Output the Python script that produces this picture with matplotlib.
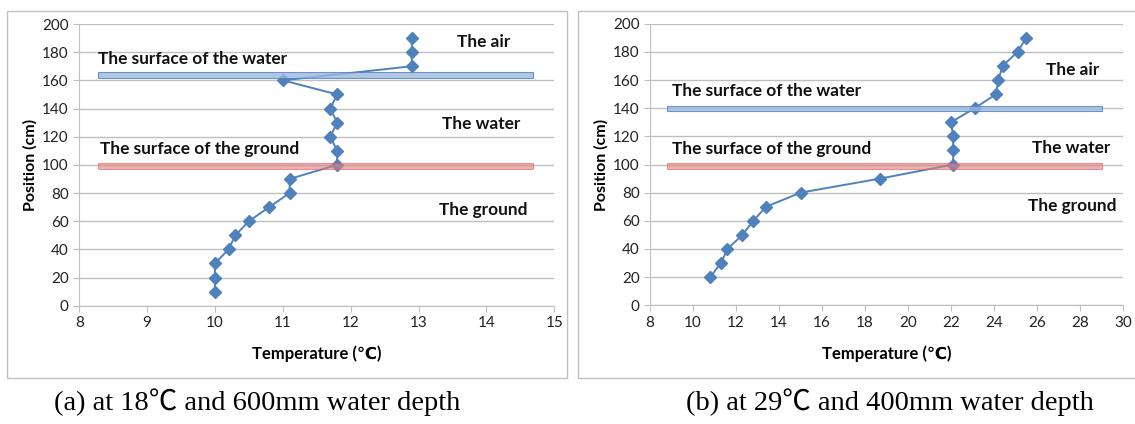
import matplotlib
matplotlib.use("Agg")
import matplotlib.pyplot as plt
from matplotlib.patches import Rectangle

# data: position (cm) vs temperature (C)
pos_a = [190, 180, 170, 160, 150, 140, 130, 120, 110, 100, 90, 80, 70, 60, 50, 40, 30, 20, 10]
temp_a = [12.9, 12.9, 12.9, 11.0, 11.8, 11.7, 11.8, 11.7, 11.8, 11.8, 11.1, 11.1, 10.8, 10.5, 10.3, 10.2, 10.0, 10.0, 10.0]

pos_b = [190, 180, 170, 160, 150, 140, 130, 120, 110, 100, 90, 80, 70, 60, 50, 40, 30, 20]
temp_b = [25.5, 25.1, 24.4, 24.2, 24.1, 23.1, 22.0, 22.1, 22.1, 22.1, 18.7, 15.0, 13.4, 12.8, 12.3, 11.6, 11.3, 10.8]

water_level_a = 164
ground_level_a = 99.4
water_level_b = 139.7
ground_level_b = 98.8

captions = ["(a) at 18\u2103 and 600mm water depth", "(b) at 29\u2103 and 400mm water depth"]

blue = "#4F81BD"
grid_c = "#BFBFBF"
sans = ["Lato", "DejaVu Sans"]

fig = plt.figure(figsize=(11.35, 4.24), dpi=100)
W, H = 1135, 424


def px_axes(x0, x1, ytop, ybot):
    return fig.add_axes([x0 / W, 1 - ybot / H, (x1 - x0) / W, (ybot - ytop) / H])


def panel(ax, temps, pos, xlim, xticks, water, ground, band_x, labels):
    ax.set_xlim(*xlim)
    ax.set_ylim(0, 200)
    ax.set_xticks(xticks)
    ax.set_yticks(range(0, 201, 20))
    ax.yaxis.grid(True, color=grid_c, lw=1.0)
    ax.set_axisbelow(True)
    for s in ["top", "right"]:
        ax.spines[s].set_visible(False)
    for s in ["left", "bottom"]:
        ax.spines[s].set_color(grid_c)
    ax.tick_params(axis="both", colors=grid_c, length=4, labelcolor="#222222", labelsize=11)
    for t in ax.get_xticklabels() + ax.get_yticklabels():
        t.set_family(sans)

    ax.plot(temps, pos, color=blue, lw=1.4, marker="D", ms=6, zorder=3)

    bx0, bx1 = band_x
    ax.add_patch(Rectangle((bx0, water - 2), bx1 - bx0, 4, facecolor="#9DB9DD",
                           edgecolor=blue, lw=0.8, alpha=0.8, zorder=4))
    ax.add_patch(Rectangle((bx0, ground - 2), bx1 - bx0, 4, facecolor="#E08080",
                           edgecolor="#E06060", lw=0.8, alpha=0.6, zorder=4))

    for txt, x, y, ha in labels:
        ax.text(x, y, txt, ha=ha, va="center", fontsize=12.4, fontweight="bold",
                family=sans, color="#111111", zorder=5)

    ax.set_xlabel("Temperature (\u2103)", fontsize=12, fontweight="bold",
                  family=sans, labelpad=11)
    ax.set_ylabel("Position (cm)", fontsize=11.5, fontweight="bold",
                  family=sans, labelpad=3)


# outer frames of the two panels
fig.patches.append(Rectangle((7 / W, 1 - 378 / H), 560 / W, 367 / H, transform=fig.transFigure,
                             fill=False, edgecolor=grid_c, lw=1.0))
fig.patches.append(Rectangle((578 / W, 1 - 378 / H), 560 / W, 367 / H, transform=fig.transFigure,
                             fill=False, edgecolor=grid_c, lw=1.0))

ax1 = px_axes(79.2, 554.3, 24, 305.7)
panel(ax1, temp_a, pos_a, (8, 15), range(8, 16), water_level_a, ground_level_a, (8.27, 14.68),
      [("The surface of the water", 8.28, 175, "left"),
       ("The surface of the ground", 8.3, 111, "left"),
       ("The air", 13.96, 187, "center"),
       ("The water", 13.93, 129, "center"),
       ("The ground", 13.95, 68, "center")])

ax2 = px_axes(650, 1123, 23.7, 305.3)
panel(ax2, temp_b, pos_b, (8, 30), range(8, 31, 2), water_level_b, ground_level_b, (8.8, 29.0),
      [("The surface of the water", 9.0, 152.4, "left"),
       ("The surface of the ground", 9.0, 111, "left"),
       ("The air", 27.65, 167, "center"),
       ("The water", 27.6, 112, "center"),
       ("The ground", 27.65, 70.5, "center")])

serif = ["Liberation Serif", "Noto Sans CJK SC", "DejaVu Serif"]
fig.text(257 / W, 1 - 402 / H, captions[0], ha="center", va="center", fontsize=20.5, family=serif)
fig.text(890 / W, 1 - 402 / H, captions[1], ha="center", va="center", fontsize=20.5, family=serif)

fig.savefig("out.png", dpi=100)
